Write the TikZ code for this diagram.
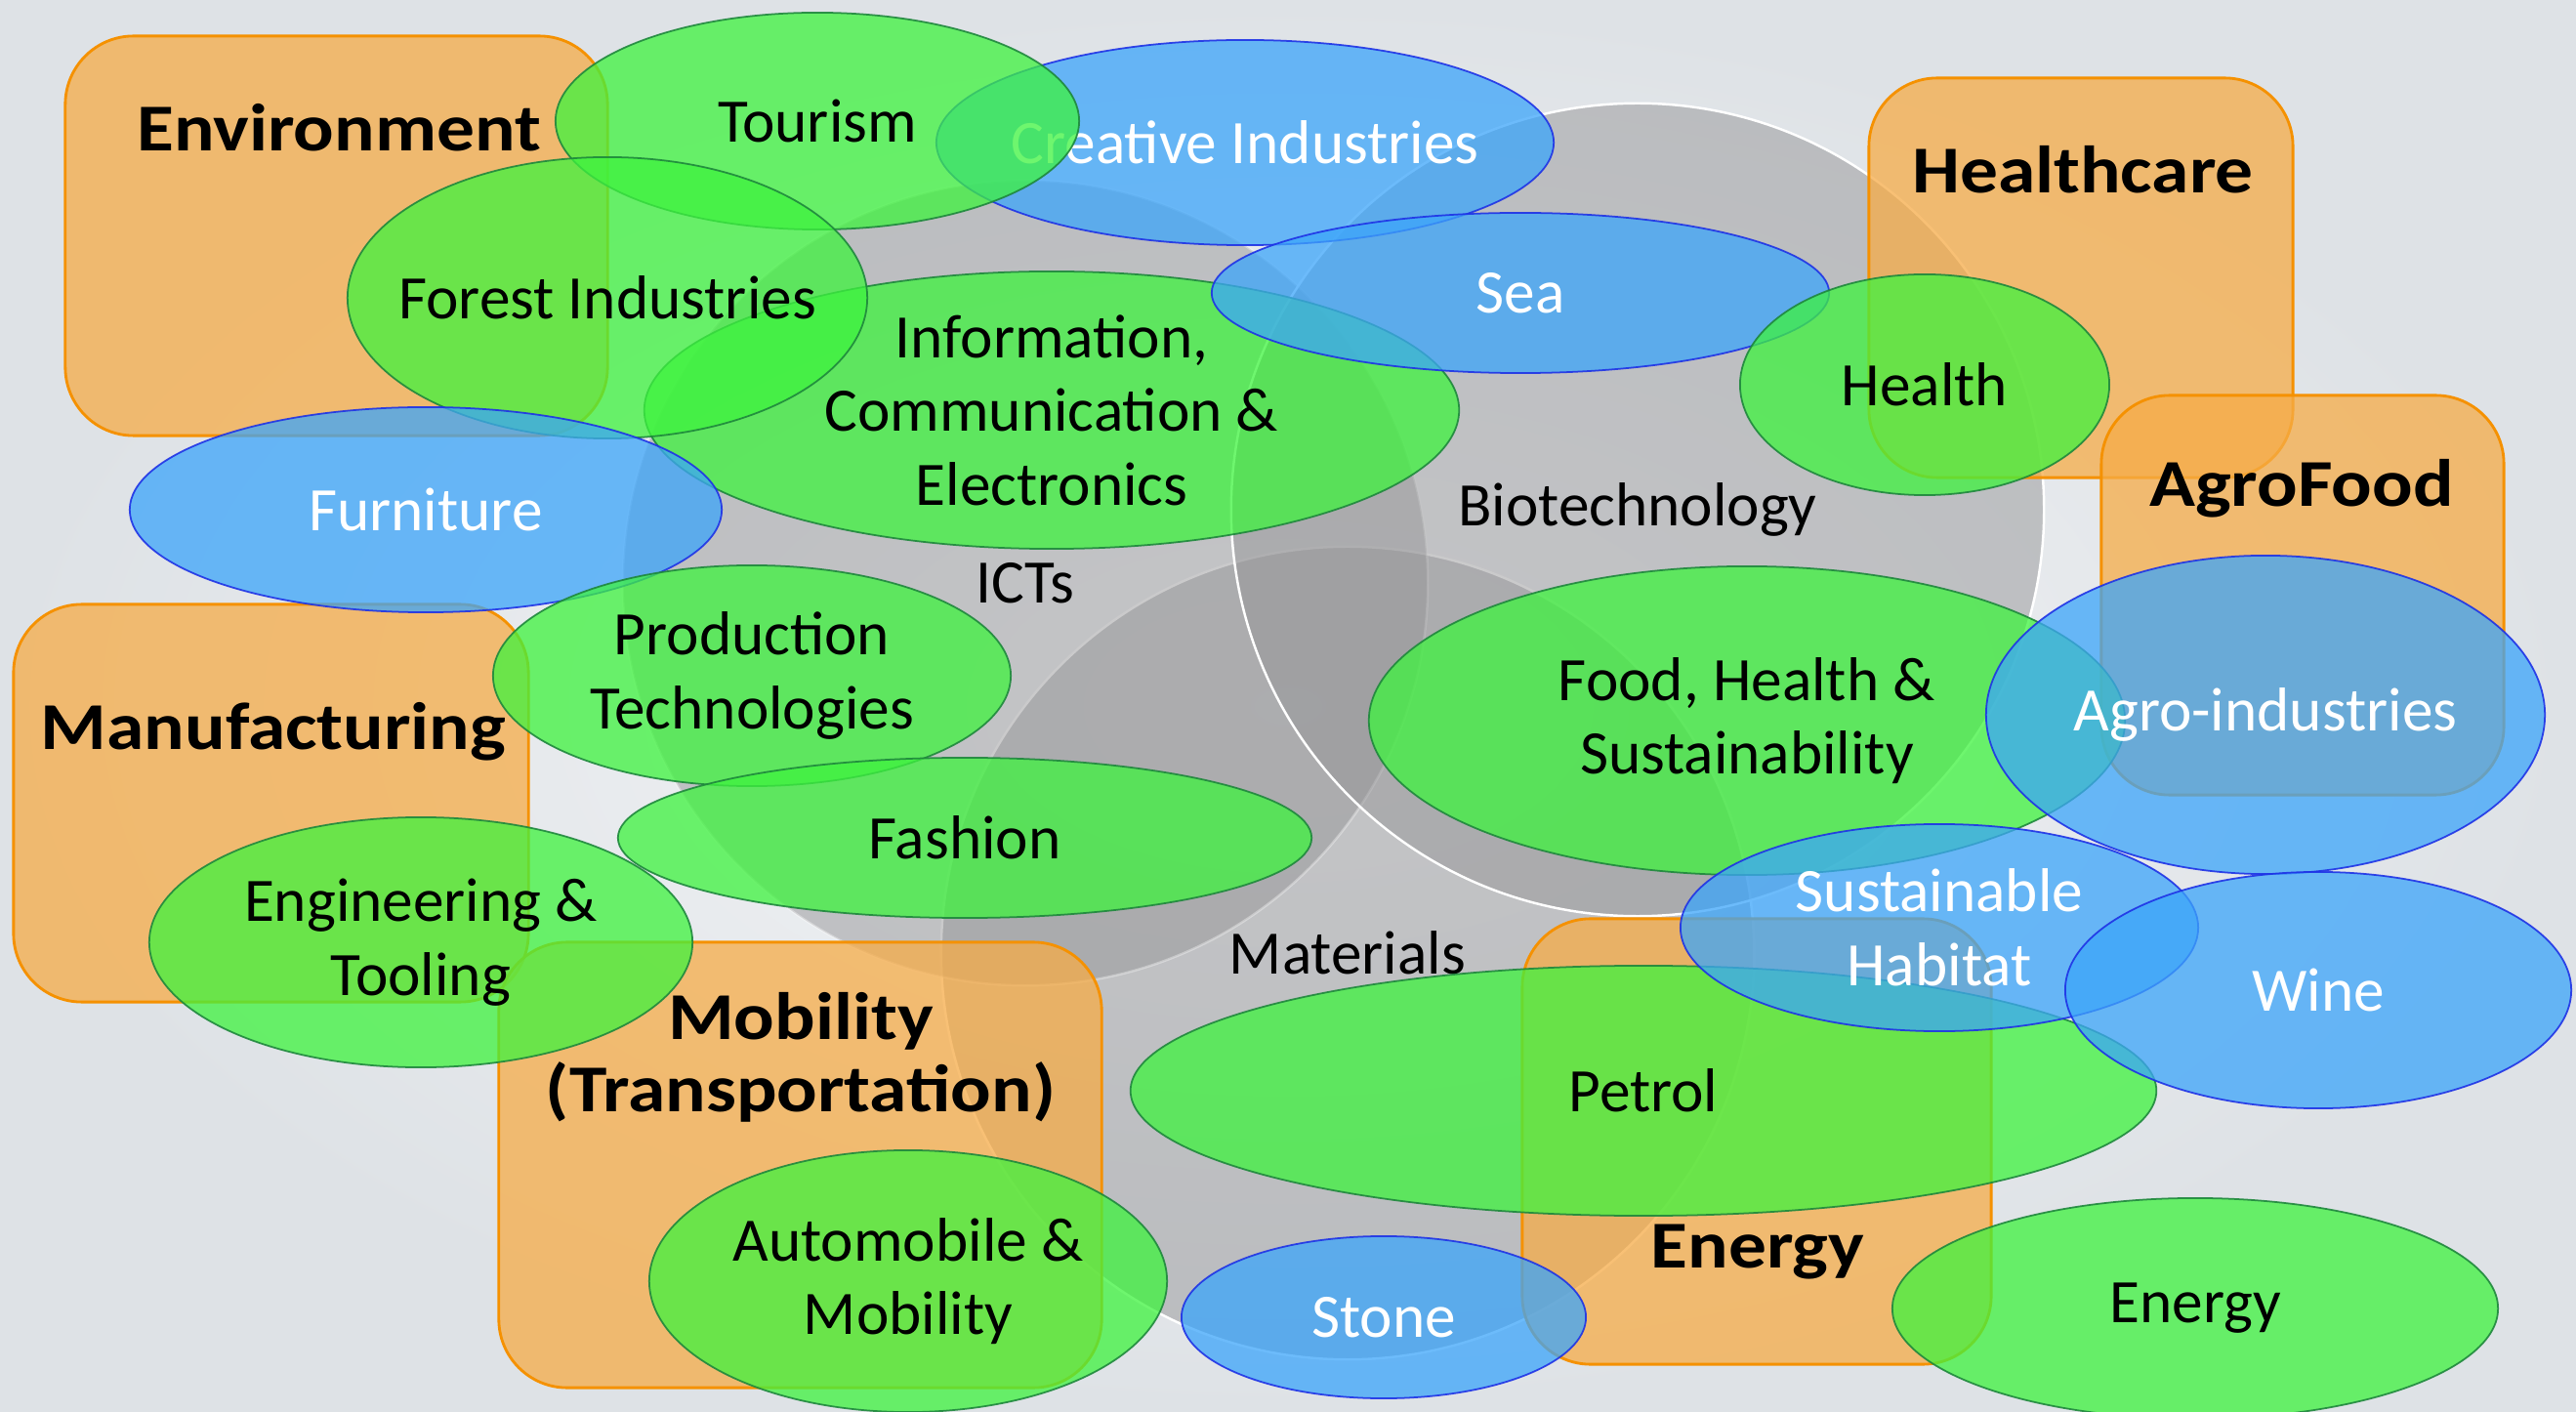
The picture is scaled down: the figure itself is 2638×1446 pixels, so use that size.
\documentclass[tikz,border=0pt]{standalone}
\usepackage{fontspec}
\setmainfont{Carlito}
\newfontfamily\sectorfont[FakeStretch=1.13]{Carlito}
\usepackage{tikz}
\usepackage{xcolor}
\usetikzlibrary{shapes.geometric}
\definecolor{grnfill}{RGB}{62,243,62}
\definecolor{grnline}{RGB}{30,135,60}
\definecolor{blufill}{RGB}{60,165,250}
\definecolor{bluline}{RGB}{30,50,230}
\definecolor{orgfill}{RGB}{246,172,72}
\definecolor{orgline}{RGB}{245,145,0}
\definecolor{techfill}{RGB}{150,150,152}
\definecolor{bgin}{RGB}{244,245,247}
\definecolor{bgout}{RGB}{222,226,230}

\begin{document}
\begin{tikzpicture}[x=0.01cm,y=-0.01cm]
		\tikzstyle{tech}=[circle,inner sep=0pt,fill=techfill,fill opacity=.5,text opacity=1,draw=white,line width=.7pt,font=\fontsize{18}{21.5}\selectfont]
		\tikzstyle{sector}=[rectangle,rounded corners=.7cm,inner sep=0pt,draw=orgline,line width=.8pt,fill=orgfill,fill opacity=.75]
		\tikzstyle{sectorname}=[align=center,font=\sectorfont\bfseries\fontsize{19.5}{21}\selectfont]
		\tikzstyle{area}=[ellipse,inner sep=0pt,line width=.5pt,fill opacity=.75,draw opacity=.9]
		\tikzstyle{greenarea}=[area,fill=grnfill,draw=grnline]
		\tikzstyle{bluearea}=[area,fill=blufill,draw=bluline]
		\tikzstyle{darktext}=[align=center,text=black,fill opacity=1,text opacity=1,font=\fontsize{18}{21.5}\selectfont]
		\tikzstyle{lighttext}=[darktext,text=white]
		
		\shade[inner color=bgin,outer color=bgout] (0,0) rectangle (2638,1446);
		\useasboundingbox (0,0) rectangle (2638,1446);
		
		% key technologies
		\node [tech,minimum size=8.32cm] (mat) at (1380,976) {Materials};
		\node [tech,minimum size=8.24cm,draw opacity=.35] (icts) at (1050,597) {ICTs};
		\node [tech,minimum size=8.32cm] (bio) at (1677,522) {Biotechnology};
		
		% sectors
		\node [sector,minimum width=5.55cm,minimum height=4.09cm] (env) at (344.5,241.5) {};
		\node [sectorname] (envname) at (347,131) {Environment};
		\node [sector,minimum width=4.34cm,minimum height=4.09cm] (hcare) at (2131,284.5) {};
		\node [sectorname] (hcarename) at (2133,174) {Healthcare};
		\node [sector,minimum width=4.12cm,minimum height=4.09cm] (agro) at (2358,609.5) {};
		\node [sectorname] (agroname) at (2357,500) {AgroFood};
		\node [sector,minimum width=5.27cm,minimum height=4.07cm] (manu) at (277.5,822.5) {};
		\node [sectorname] (manuname) at (280,749) {Manufacturing};
		\node [sector,minimum width=6.17cm,minimum height=4.56cm] (mobi) at (819.5,1193) {};
		\node [sectorname] (mobiname) at (820,1083) {Mobility\\(Transportation)};
		\node [sector,minimum width=4.80cm,minimum height=4.56cm] (ener) at (1799,1169) {};
		\node [sectorname] (enername) at (1800,1282) {Energy};
		
		% specialisation areas
		\node [bluearea,minimum width=6.32cm,minimum height=2.10cm,label={[lighttext]center:Creative Industries}] (creative) at (1275,146) {};
		\node [greenarea,minimum width=5.36cm,minimum height=2.22cm,label={[darktext]center:Tourism}] (tourism) at (837,124) {};
		\node [greenarea,minimum width=8.34cm,minimum height=2.84cm,label={[darktext]center:{Information,\\Communication \&\\Electronics}}] (ice) at (1077,420) {};
		\node [greenarea,minimum width=5.32cm,minimum height=2.88cm,label={[darktext]center:Forest Industries}] (forest) at (622,305) {};
		\node [bluearea,minimum width=6.32cm,minimum height=1.64cm,label={[lighttext]center:Sea}] (sea) at (1557,300) {};
		\node [greenarea,minimum width=3.78cm,minimum height=2.26cm,label={[darktext]center:Health}] (health) at (1971,394) {};
		\node [bluearea,minimum width=6.06cm,minimum height=2.10cm,label={[lighttext]center:Furniture}] (furniture) at (436,522) {};
		\node [greenarea,minimum width=5.30cm,minimum height=2.26cm,label={[darktext]center:{Production\\Technologies}}] (prodtech) at (770,692) {};
		\node [greenarea,minimum width=7.10cm,minimum height=1.64cm,label={[darktext]center:Fashion}] (fashion) at (988,858) {};
		\node [greenarea,minimum width=7.74cm,minimum height=3.16cm,label={[darktext]center:{Food, Health \&\\Sustainability}}] (food) at (1789,738) {};
		\node [bluearea,minimum width=5.72cm,minimum height=3.26cm,label={[lighttext]center:Agro-industries}] (agroind) at (2320,732) {};
		\node [greenarea,minimum width=5.56cm,minimum height=2.56cm,label={[darktext]center:{Engineering \&\\Tooling}}] (engtool) at (431,965) {};
		\node [greenarea,minimum width=10.50cm,minimum height=2.56cm,label={[darktext]center:Petrol}] (petrol) at (1683,1117) {};
		\node [bluearea,minimum width=5.30cm,minimum height=2.12cm,label={[lighttext]center:{Sustainable\\Habitat}}] (habitat) at (1986,950) {};
		\node [bluearea,minimum width=5.18cm,minimum height=2.42cm,label={[lighttext]center:Wine}] (wine) at (2374,1014) {};
		\node [greenarea,minimum width=5.30cm,minimum height=2.68cm,label={[darktext]center:{Automobile \&\\Mobility}}] (automob) at (930,1312) {};
		\node [bluearea,minimum width=4.14cm,minimum height=1.66cm,label={[lighttext]center:Stone}] (stone) at (1417,1349) {};
		\node [greenarea,minimum width=6.20cm,minimum height=2.26cm,label={[darktext]center:Energy}] (energy) at (2248,1340) {};
\end{tikzpicture}
\end{document}
